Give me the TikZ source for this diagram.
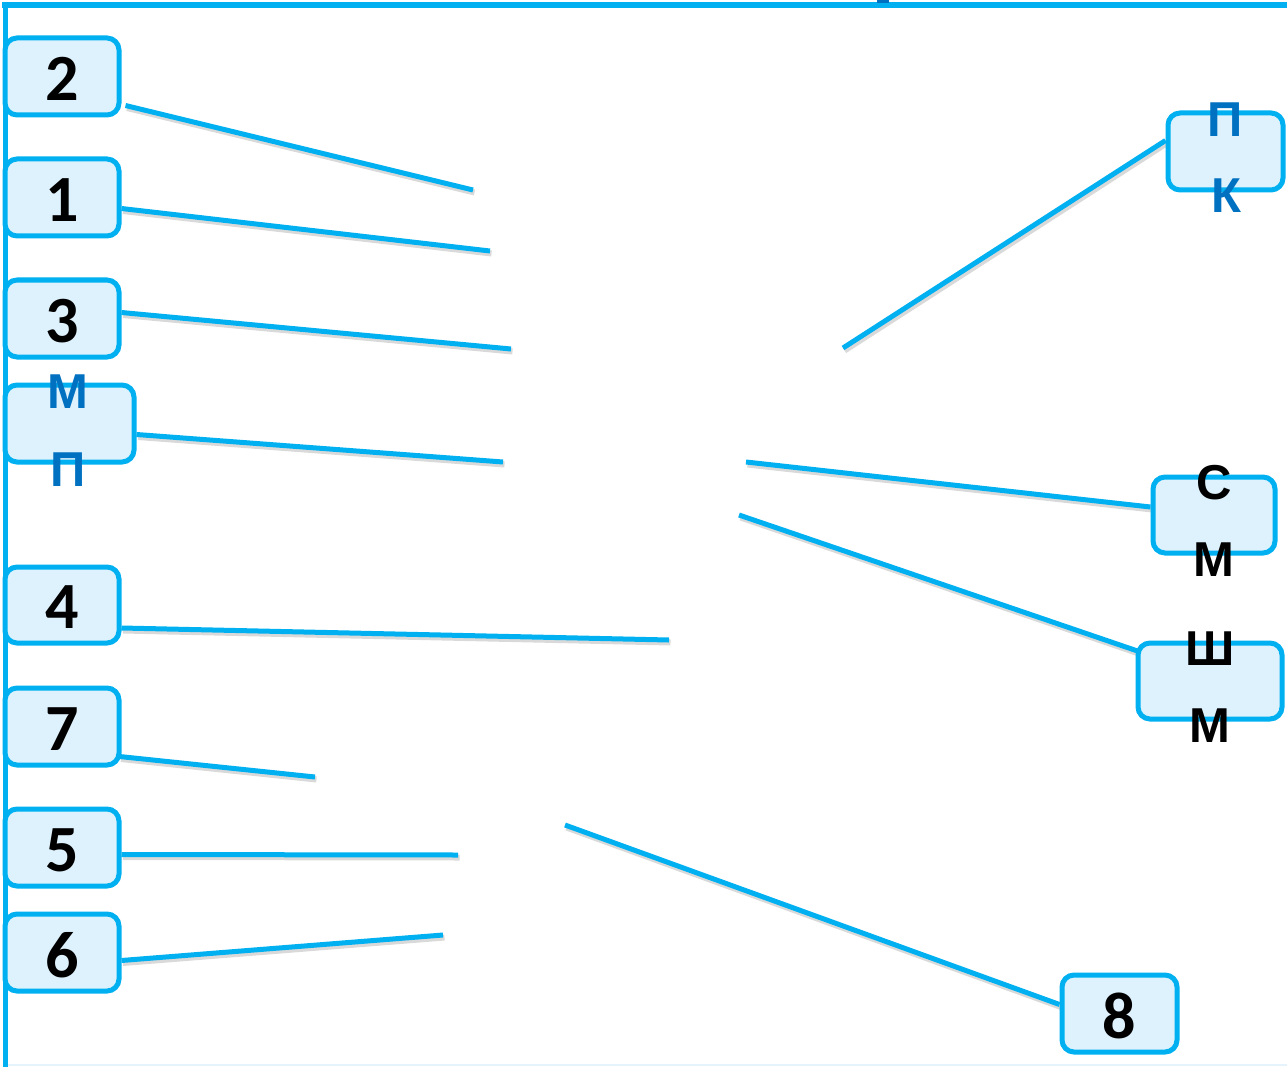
\documentclass[tikz,border=0pt]{standalone}
\usepackage{fontspec}
\setmainfont{Carlito}
\newfontfamily\letterfont{Liberation Sans}
\usetikzlibrary{backgrounds}
\definecolor{cy}{RGB}{0,176,240}
\definecolor{boxfill}{RGB}{222,242,253}
\definecolor{dblue}{RGB}{0,112,192}
\definecolor{faint}{RGB}{228,243,252}
\tikzset{
  box/.style={draw=cy, line width=5pt, fill=boxfill, rounded corners=12pt, inner sep=0pt, anchor=center},
  digit/.style={font=\fontsize{66}{66}\selectfont\bfseries, text=black, inner sep=0pt},
  letter/.style={font=\letterfont\fontsize{49}{49}\selectfont\bfseries, inner sep=0pt},
  conn/.style={draw=cy, line width=5pt},
  shadowline/.style={draw=black, opacity=0.15, line width=6pt, transform canvas={xshift=1.5pt,yshift=-2.5pt}},
}
\begin{document}
\begin{tikzpicture}[x=1pt,y=-1pt]
\useasboundingbox (0,0) rectangle (1287,1067);
% frame
\draw[faint, line width=2pt] (5,1065) -- (1287,1065);
\draw[cy, line width=6pt] (2,5) -- (1287,5);
\draw[cy, line width=5pt] (5,3) -- (5,1067);
\fill[dblue] (877,0) rectangle (889,3);

% left boxes
\node[box, minimum width=114pt, minimum height=77pt] (b2) at (62,76.5) {};
\node[digit] (t2) at (62,79) {2};
\node[box, minimum width=114pt, minimum height=77pt] (b1) at (62,197.5) {};
\node[digit] (t1) at (62,200) {1};
\node[box, minimum width=114pt, minimum height=77pt] (b3) at (62,318.5) {};
\node[digit] (t3) at (62,321) {3};
\node[box, minimum width=129pt, minimum height=77pt] (bmp) at (69.5,423.5) {};
\node[letter, text=dblue] (mp1) at (68,392) {М};
\node[letter, text=dblue] (mp2) at (68,470) {П};
\node[box, minimum width=114pt, minimum height=76pt] (b4) at (62,605) {};
\node[digit] (t4) at (62,607) {4};
\node[box, minimum width=114pt, minimum height=77pt] (b7) at (62,726.5) {};
\node[digit] (t7) at (62,729) {7};
\node[box, minimum width=114pt, minimum height=77pt] (b5) at (62,847.5) {};
\node[digit] (t5) at (62,850) {5};
\node[box, minimum width=114pt, minimum height=77pt] (b6) at (62,952.5) {};
\node[digit] (t6) at (62,955) {6};

% right boxes
\node[box, minimum width=115pt, minimum height=77pt] (bpk) at (1225.5,151.5) {};
\node[letter, text=dblue] (pk1) at (1225,120) {П};
\node[letter, text=dblue] (pk2) at (1226,196) {К};
\node[box, minimum width=122pt, minimum height=76pt] (bsm) at (1214,515) {};
\node[letter, text=black] (sm1) at (1214,483) {С};
\node[letter, text=black] (sm2) at (1214,560) {М};
\node[box, minimum width=144pt, minimum height=76pt] (bshm) at (1210,681) {};
\node[letter, text=black] (shm1) at (1210,649) {Ш};
\node[letter, text=black] (shm2) at (1210,726) {М};
\node[box, minimum width=115pt, minimum height=77pt] (b8) at (1119.5,1013.5) {};
\node[digit] (t8) at (1119,1016) {8};

% free ends
\coordinate (e2) at (473,190);
\coordinate (e1) at (490,251);
\coordinate (e3) at (511,349);
\coordinate (emp) at (503,462);
\coordinate (e4) at (669,640);
\coordinate (e7) at (315,777);
\coordinate (e5) at (458,855);
\coordinate (e6) at (443,935);
\coordinate (epk) at (843,348);
\coordinate (esm) at (746,462);
\coordinate (eshm) at (739,515);
\coordinate (e8) at (565,825);

\begin{scope}[on background layer]
\foreach \st in {shadowline, conn}{
  \draw[\st] ([xshift=4pt,yshift=-29pt]b2.east) -- (e2);
  \draw[\st] ([yshift=-11pt]b1.east) -- (e1);
  \draw[\st] ([yshift=6pt]b3.east) -- (e3);
  \draw[\st] ([yshift=-11pt]bmp.east) -- (emp);
  \draw[\st] ([yshift=-23pt]b4.east) -- (e4);
  \draw[\st] ([xshift=-2pt,yshift=-30pt]b7.east) -- (e7);
  \draw[\st] ([yshift=-7pt]b5.east) -- (e5);
  \draw[\st] ([yshift=-8pt]b6.east) -- (e6);
  \draw[\st] ([yshift=11pt]bpk.west) -- (epk);
  \draw[\st] ([yshift=8pt]bsm.west) -- (esm);
  \draw[\st] ([xshift=2pt,yshift=30pt]bshm.west) -- (eshm);
  \draw[\st] ([yshift=9pt]b8.west) -- (e8);
}
\end{scope}
\end{tikzpicture}
\end{document}
